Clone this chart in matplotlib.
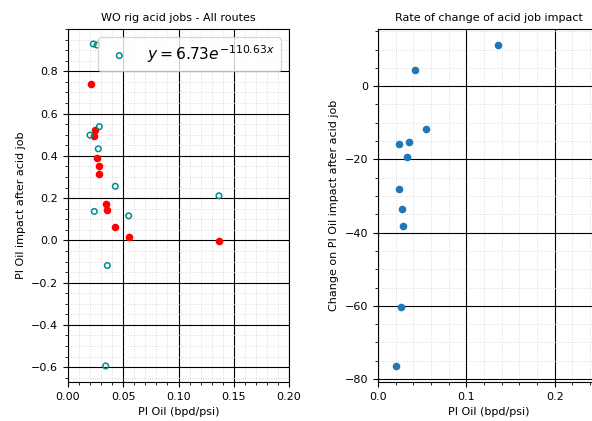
import matplotlib.pyplot as plt

# left plot: acid jobs, red = filled, teal = hollow
red_x = [0.0208, 0.0241, 0.0238, 0.0265, 0.0278, 0.0284, 0.0344, 0.0356, 0.0428, 0.0549, 0.1369]
red_y = [0.741, 0.524, 0.495, 0.389, 0.352, 0.316, 0.170, 0.143, 0.063, 0.014, -0.001]

teal_x = [0.0229, 0.0262, 0.0284, 0.0199, 0.0274, 0.0428, 0.1366, 0.0238, 0.0549, 0.0356, 0.0341]
teal_y = [0.929, 0.924, 0.538, 0.498, 0.433, 0.256, 0.211, 0.137, 0.116, -0.119, -0.594]

# right plot: rate of change
rate_x = [0.1357, 0.0422, 0.0546, 0.0233, 0.0350, 0.0331, 0.0233, 0.0271, 0.0278, 0.0259, 0.0200]
rate_y = [11.2, 4.47, -11.6, -15.7, -15.3, -19.45, -28.05, -33.5, -38.1, -60.3, -76.4]

plt.rcParams['font.size'] = 8

W, H = 592, 421
fig = plt.figure(figsize=(W / 100, H / 100), dpi=100)
ax1 = fig.add_axes([68 / W, 1 - 382 / H, 221 / W, 353 / H])
ax2 = fig.add_axes([378 / W, 1 - 382 / H, 221 / W, 353 / H])

ax1.scatter(red_x, red_y, color='red', s=20)
ax1.scatter(teal_x, teal_y, facecolors='none', edgecolors='darkcyan', linewidths=1.1, s=16,
            label=r'$y = 6.73e^{-110.63x}$')
ax1.legend(loc='upper right', prop={'size': 11.2})
ax1.set_xlim(0, 0.2)
ax1.set_ylim(-0.67, 1.0)
ax1.set_xticks([0, 0.05, 0.10, 0.15, 0.20])
ax1.set_yticks([-0.6, -0.4, -0.2, 0.0, 0.2, 0.4, 0.6, 0.8])
ax1.set_xlabel('PI Oil (bpd/psi)')
ax1.set_ylabel('PI Oil impact after acid job')
ax1.set_title('WO rig acid jobs - All routes', fontsize=8)

ax2.scatter(rate_x, rate_y, color='tab:blue', s=20)
ax2.set_xlim(0, 0.25)
ax2.set_ylim(-80.8, 15.6)
ax2.set_xticks([0, 0.1, 0.2])
ax2.set_xlabel('PI Oil (bpd/psi)')
ax2.set_ylabel('Change on PI Oil impact after acid job')
ax2.set_title('Rate of change of acid job impact', fontsize=8)

for ax in (ax1, ax2):
    ax.minorticks_on()
    ax.grid(which='major', color='black', linestyle='-', linewidth=0.8)
    ax.grid(which='minor', color='lightgrey', linestyle=':', linewidth=0.6)
    ax.set_axisbelow(True)

fig.savefig('out.png', dpi=100)
